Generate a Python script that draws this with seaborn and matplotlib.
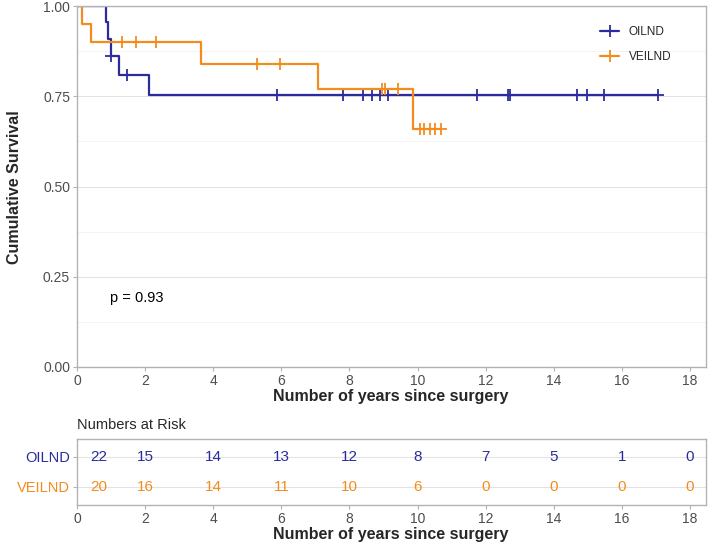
import matplotlib
matplotlib.use("Agg")
import matplotlib.pyplot as plt
from matplotlib.lines import Line2D
import numpy as np
import pandas as pd
import seaborn as sns

# step curves (time in years, cumulative survival)
oilnd_time = [0, 0.84, 0.90, 1.00, 1.23, 2.11, 17.06]
oilnd_surv = [1.0, 0.955, 0.909, 0.862, 0.808, 0.754, 0.754]
oilnd_cens_time = [0.15, 1.00, 1.47, 5.87, 7.81, 8.40, 8.66, 8.90, 9.13,
                   11.74, 12.65, 12.71, 14.68, 14.97, 15.47, 17.06]
oilnd_cens_surv = [1.0, 0.862, 0.808, 0.754, 0.754, 0.754, 0.754, 0.754, 0.754,
                   0.754, 0.754, 0.754, 0.754, 0.754, 0.754, 0.754]

veilnd_time = [0, 0.15, 0.41, 3.64, 7.08, 9.87, 10.70]
veilnd_surv = [1.0, 0.95, 0.90, 0.84, 0.77, 0.66, 0.66]
veilnd_cens_time = [1.32, 1.73, 2.32, 5.28, 5.96, 8.96, 9.04, 9.42,
                    10.07, 10.20, 10.36, 10.50, 10.70]
veilnd_cens_surv = [0.90, 0.90, 0.90, 0.84, 0.84, 0.77, 0.77, 0.77,
                    0.66, 0.66, 0.66, 0.66, 0.66]

risk_times = [0, 2, 4, 6, 8, 10, 12, 14, 16, 18]
oilnd_risk = [22, 15, 14, 13, 12, 8, 7, 5, 1, 0]
veilnd_risk = [20, 16, 14, 11, 10, 6, 0, 0, 0, 0]

groups = ["OILND", "VEILND"]
p_text = "p = 0.93"

blue = "#2B2B9E"
orange = "#F28C1E"
grey_txt = "#4D4D4D"
border = "#B3B3B3"

sns.set_theme(style="white")
plt.rcParams["font.family"] = ["Liberation Sans", "DejaVu Sans"]

fig = plt.figure(figsize=(7.09, 5.46), dpi=100)
ax = fig.add_axes([77/709, 1-367/546, 629/709, 361/546])
ax2 = fig.add_axes([77/709, 1-505/546, 629/709, 66/546])

curves = pd.DataFrame({
    "time": oilnd_time + veilnd_time,
    "surv": oilnd_surv + veilnd_surv,
    "group": [groups[0]]*len(oilnd_time) + [groups[1]]*len(veilnd_time),
})
cens = pd.DataFrame({
    "time": oilnd_cens_time + veilnd_cens_time,
    "surv": oilnd_cens_surv + veilnd_cens_surv,
    "group": [groups[0]]*len(oilnd_cens_time) + [groups[1]]*len(veilnd_cens_time),
})
pal = {groups[0]: blue, groups[1]: orange}

# grid first so the curves sit on top
for y in np.arange(0, 1.01, 0.25):
    ax.axhline(y, color="#E3E3E3", lw=0.8, zorder=0)
for y in np.arange(0.125, 1, 0.25):
    ax.axhline(y, color="#F2F2F2", lw=0.6, zorder=0)

for g in groups:
    sub = curves[curves.group == g]
    sns.lineplot(x="time", y="surv", data=sub, ax=ax, color=pal[g], lw=1.6,
                 drawstyle="steps-post", estimator=None, sort=False, legend=False)
    cs = cens[cens.group == g]
    ax.plot(cs.time, cs.surv, ls="none", marker="+", ms=8, mew=1.3, color=pal[g])

ax.set_xlim(0, 18.47)
ax.set_ylim(0, 1.0)
ax.set_xticks(range(0, 19, 2))
ax.set_yticks([0, 0.25, 0.5, 0.75, 1.0])
ax.set_yticklabels(["0.00", "0.25", "0.50", "0.75", "1.00"])
ax.set_xlabel("")
ax.set_ylabel("")
ax.text(0.97, 0.19, p_text, fontsize=10.5, ha="left", va="center", color="black")

handles = [Line2D([], [], color=pal[g], lw=1.6, marker="+", ms=8, mew=1.3) for g in groups]
ax.legend(handles, groups, loc="upper left", bbox_to_anchor=(0.815, 0.975),
          frameon=False, fontsize=8.5, handlelength=1.6, labelspacing=1.15)

# risk table
for y in [1, 2]:
    ax2.axhline(y, color="#E3E3E3", lw=0.8, zorder=0)
for t, a, b in zip(risk_times, oilnd_risk, veilnd_risk):
    dx = 16 if t == 0 else 0
    ax2.annotate(str(a), (t, 2), xytext=(dx, 0), textcoords="offset points",
                 ha="center", va="center", color=blue, fontsize=11)
    ax2.annotate(str(b), (t, 1), xytext=(dx, 0), textcoords="offset points",
                 ha="center", va="center", color=orange, fontsize=11)
ax2.set_xlim(0, 18.47)
ax2.set_ylim(0.4, 2.6)
ax2.set_xticks(range(0, 19, 2))
ax2.set_yticks([2, 1])
ax2.set_yticklabels(groups)

for a in (ax, ax2):
    for s in a.spines.values():
        s.set_color(border)
        s.set_linewidth(1.0)
    a.tick_params(axis="both", which="major", length=3, width=0.8, color=border,
                  labelcolor=grey_txt, labelsize=10, pad=2, bottom=True, left=True)
ax2.tick_params(axis="y", labelsize=10.5)
for lab, g in zip(ax2.get_yticklabels(), groups):
    lab.set_color(pal[g])

fig.text(15/709, 1-187/546, "Cumulative Survival", rotation=90, ha="center", va="center",
         fontsize=11.5, fontweight="bold")
fig.text(391/709, 1-397/546, "Number of years since surgery", ha="center", va="center",
         fontsize=11.5, fontweight="bold")
fig.text(391/709, 1-535/546, "Number of years since surgery", ha="center", va="center",
         fontsize=11.5, fontweight="bold")
fig.text(77/709, 1-425/546, "Numbers at Risk", ha="left", va="center", fontsize=10.5)

fig.savefig("out.png", dpi=100)
